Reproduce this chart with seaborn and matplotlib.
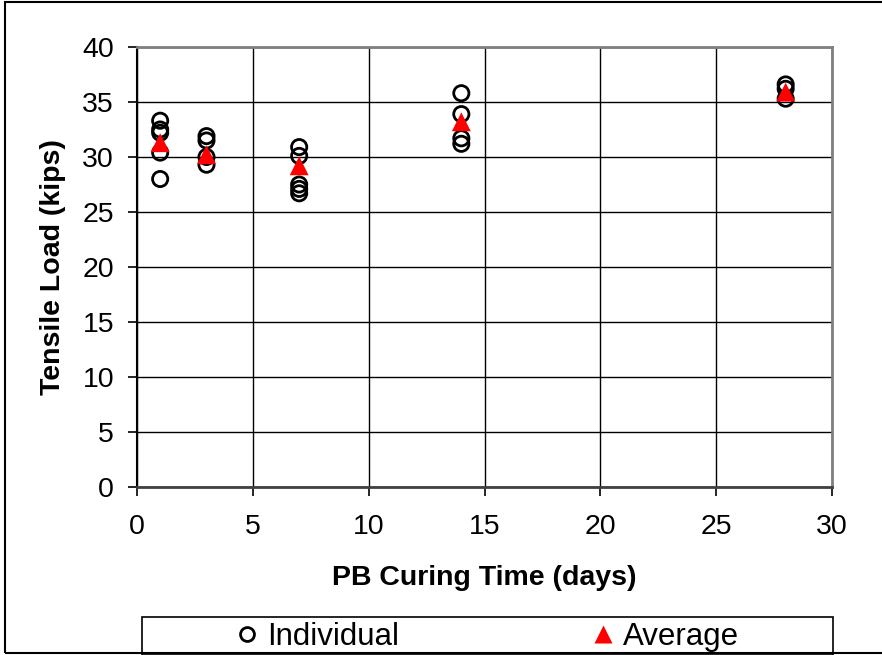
import numpy as np
import pandas as pd
import matplotlib
matplotlib.use("Agg")
import matplotlib.pyplot as plt
import seaborn as sns
from matplotlib.lines import Line2D
from matplotlib.patches import Rectangle

# ---- data ----
days_individual = [1, 1, 1, 1, 1,
                   3, 3, 3, 3,
                   7, 7, 7, 7, 7,
                   14, 14, 14, 14,
                   28, 28, 28]
load_individual = [33.3, 32.5, 32.2, 30.4, 28.0,
                   31.9, 31.5, 30.0, 29.3,
                   30.9, 30.1, 27.5, 27.1, 26.7,
                   35.8, 33.9, 31.7, 31.2,
                   36.6, 36.2, 35.3]
days_average = [1, 3, 7, 14, 28]
load_average = [31.3, 30.2, 29.2, 33.2, 35.9]

x_ticks = [0, 5, 10, 15, 20, 25, 30]
y_ticks = [0, 5, 10, 15, 20, 25, 30, 35, 40]
x_label = "PB Curing Time (days)"
y_label = "Tensile Load (kips)"

df_ind = pd.DataFrame({"days": days_individual, "load": load_individual})
df_avg = pd.DataFrame({"days": days_average, "load": load_average})

sns.set_style("white")
plt.rcParams["font.family"] = ["Liberation Sans", "DejaVu Sans"]
plt.rcParams["text.color"] = "black"
plt.rcParams["axes.labelcolor"] = "black"
plt.rcParams["xtick.color"] = "black"
plt.rcParams["ytick.color"] = "black"

W, H = 882, 655
fig = plt.figure(figsize=(W / 100, H / 100), dpi=100)
ax = fig.add_axes([137 / W, 1 - 487 / H, 695 / W, 440 / H])

sns.scatterplot(data=df_ind, x="days", y="load", ax=ax, marker="o",
                s=120, facecolors="none", edgecolor="black", linewidth=2.0,
                zorder=3, legend=False)
sns.scatterplot(data=df_avg, x="days", y="load", ax=ax, marker="^",
                s=185, color="#ff0000", edgecolor="none", linewidth=0,
                zorder=4, legend=False)

ax.set_xlim(0, 30)
ax.set_ylim(0, 40)
ax.set_xticks(x_ticks)
ax.set_yticks(y_ticks)
ax.grid(True, color="black", linewidth=1.0)
ax.set_axisbelow(True)

for side in ["top", "right"]:
    ax.spines[side].set_color("#808080")
    ax.spines[side].set_linewidth(2)
ax.spines["left"].set_color("black")
ax.spines["left"].set_linewidth(1.5)
ax.spines["bottom"].set_color("#404040")
ax.spines["bottom"].set_linewidth(2)
for s in ax.spines.values():
    s.set_visible(True)

ax.tick_params(axis="both", direction="out", length=6.5, width=1.2,
               color="black", labelsize=20.5, labelcolor="black")
ax.tick_params(axis="y", pad=10)
ax.tick_params(axis="x", pad=13)
ax.tick_params(bottom=True, left=True)

ax.set_xlabel(x_label, fontsize=20.5, fontweight="bold", labelpad=18,
              color="black")
ax.set_ylabel(y_label, fontsize=20.5, fontweight="bold", labelpad=12,
              color="black")

# legend
handles = [
    Line2D([], [], linestyle="none", marker="o", markersize=10,
           markerfacecolor="none", markeredgecolor="black", markeredgewidth=2.0),
    Line2D([], [], linestyle="none", marker="^", markersize=13,
           markerfacecolor="#ff0000", markeredgecolor="none"),
]
fig.legend(handles, ["Individual", "Average"], ncol=2, frameon=False,
           loc="center", bbox_to_anchor=(487 / W, 1 - 637 / H),
           fontsize=22.5, handlelength=0.8, handletextpad=0.25,
           columnspacing=6.1, borderpad=0, labelcolor="black")
fig.patches.append(Rectangle((142 / W, 1 - 655 / H), (833 - 142) / W,
                             (655 - 617) / H, transform=fig.transFigure,
                             fill=False, edgecolor="black", linewidth=1.2))

# outer frame
fig.patches.append(Rectangle((5 / W, 1 - 653 / H), (890 - 5) / W,
                             (653 - 2) / H, transform=fig.transFigure,
                             fill=False, edgecolor="black", linewidth=1.5,
                             clip_on=False))

fig.savefig("out.png", dpi=100)
